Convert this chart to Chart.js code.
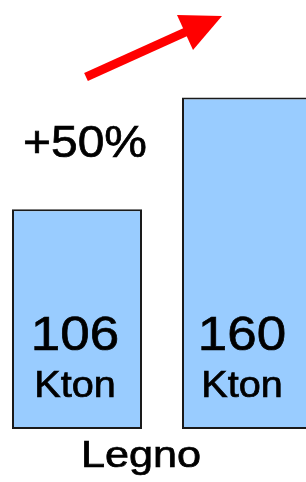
<!DOCTYPE html>
<html>
<head>
<meta charset="utf-8">
<script src="https://cdn.jsdelivr.net/npm/chart.js@4"></script>
<style>
  html, body { margin: 0; padding: 0; background: #fff; overflow: hidden; }
  #wrap { position: absolute; left: -8px; top: 0; width: 340px; height: 482px; }
</style>
</head>
<body>
<div id="wrap"><canvas id="legnoChart"></canvas></div>
<script>
// Dati
const categories = ['Prima', 'Dopo'];
const values = [106, 160];
const unit = 'Kton';
const groupLabel = 'Legno';
const changeLabel = '+50%';

const FONT = '"Liberation Sans", Arial, sans-serif';
const OX = 8; // il canvas parte 8px a sinistra della pagina
const labelDx = [-2, -5];

// testo un po' allargato in orizzontale e un po' piu' marcato, come nell'originale
function drawText(ctx, text, x, y, size, sx, align) {
    ctx.save();
    ctx.font = size + 'px ' + FONT;
    ctx.textAlign = align || 'center';
    ctx.textBaseline = 'alphabetic';
    ctx.fillStyle = '#000';
    ctx.strokeStyle = '#000';
    ctx.lineWidth = 0.7;
    ctx.translate(x, y);
    ctx.scale(sx, 1);
    ctx.fillText(text, 0, 0);
    ctx.strokeText(text, 0, 0);
    ctx.restore();
}

// Testi dentro le barre, freccia e didascalie
const annotations = {
    id: 'annotations',
    afterDatasetsDraw(chart) {
        const ctx = chart.ctx;
        const bars = chart.getDatasetMeta(0).data;
        bars.forEach(function(bar, i) {
            drawText(ctx, String(values[i]), bar.x + labelDx[i], bar.base - 79, 49, 1.08);
            drawText(ctx, unit, bar.x + labelDx[i], bar.base - 32, 36, 1.1);
        });

        drawText(ctx, groupLabel, 141 + OX, 467, 36, 1.2);
        drawText(ctx, changeLabel, 23 + OX, 157, 44, 1.09, 'left');

        // freccia rossa
        ctx.save();
        ctx.strokeStyle = '#ff0000';
        ctx.fillStyle = '#ff0000';
        ctx.lineWidth = 9;
        ctx.beginPath();
        ctx.moveTo(86 + OX, 77);
        ctx.lineTo(190 + OX, 30);
        ctx.stroke();
        ctx.beginPath();
        ctx.moveTo(222 + OX, 16);
        ctx.lineTo(177 + OX, 15);
        ctx.lineTo(193 + OX, 50);
        ctx.closePath();
        ctx.fill();
        ctx.restore();
    }
};

document.addEventListener('DOMContentLoaded', function() {
    const ctx = document.getElementById('legnoChart').getContext('2d');
    new Chart(ctx, {
        type: 'bar',
        data: {
            labels: categories,
            datasets: [{
                data: values,
                backgroundColor: '#99ccff',
                borderColor: '#1a1a1a',
                borderWidth: 2,
                borderSkipped: false,
                categoryPercentage: 1,
                barPercentage: 130 / 170
            }]
        },
        options: {
            responsive: true,
            maintainAspectRatio: false,
            animation: false,
            layout: { padding: { top: 0, bottom: 53, left: 0, right: 0 } },
            plugins: {
                legend: { display: false },
                tooltip: { enabled: false }
            },
            scales: {
                x: { display: false },
                y: { display: false, min: 0, max: 207 }
            }
        },
        plugins: [annotations]
    });
});
</script>
</body>
</html>
